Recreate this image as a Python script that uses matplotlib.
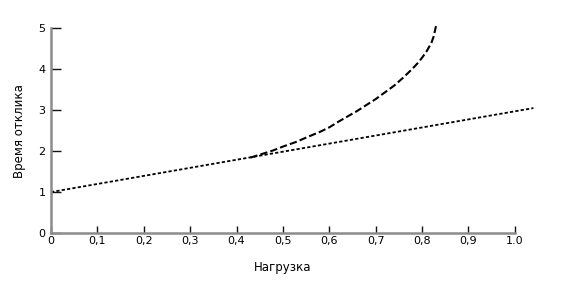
import matplotlib
matplotlib.use('Agg')
import matplotlib.pyplot as plt

# linear (dotted) line
lin_x = [0.0, 1.04]
lin_y = [1.0, 3.05]

# curve (dashed)
crv_x = [0.43, 0.48, 0.50, 0.53, 0.55, 0.58, 0.60, 0.62, 0.66, 0.70, 0.74, 0.76, 0.78, 0.79,
         0.80, 0.81, 0.82, 0.825, 0.83]
crv_y = [1.84, 2.02, 2.11, 2.23, 2.33, 2.47, 2.58, 2.72, 2.98, 3.27, 3.60, 3.80, 4.02, 4.14,
         4.28, 4.44, 4.64, 4.80, 5.05]

xticks = [0, 0.1, 0.2, 0.3, 0.4, 0.5, 0.6, 0.7, 0.8, 0.9, 1.0]
xlabels = ['0', '0,1', '0,2', '0,3', '0,4', '0,5', '0,6', '0,7', '0,8', '0,9', '1.0']
yticks = [0, 1, 2, 3, 4, 5]

fig = plt.figure(figsize=(5.67, 2.88), dpi=100)
ax = fig.add_axes([0.09, 0.191, 0.818, 0.711])

ax.plot(lin_x, lin_y, c='black', lw=1.3, linestyle=(0, (1.8, 1.2)), clip_on=False)
ax.plot(crv_x, crv_y, c='black', lw=1.5, linestyle=(0, (3.5, 1.5)), clip_on=False)

ax.set_xlim(0, 1.0)
ax.set_ylim(0, 5)
ax.set_xticks(xticks)
ax.set_xticklabels(xlabels)
ax.set_yticks(yticks)

for s in ['top', 'right']:
    ax.spines[s].set_visible(False)
for s in ['left', 'bottom']:
    ax.spines[s].set_color('#8c8c8c')
    ax.spines[s].set_linewidth(1.8)

ax.tick_params(axis='x', direction='in', length=5, width=1, color='#111111', pad=2, labelsize=8)
ax.tick_params(axis='y', direction='in', length=7, width=1, color='#111111', pad=4, labelsize=8)

ax.set_xlabel('Нагрузка', fontsize=8.5, labelpad=11)
ax.set_ylabel('Время отклика', fontsize=8.5, labelpad=9)

fig.savefig('out.png', dpi=100)
